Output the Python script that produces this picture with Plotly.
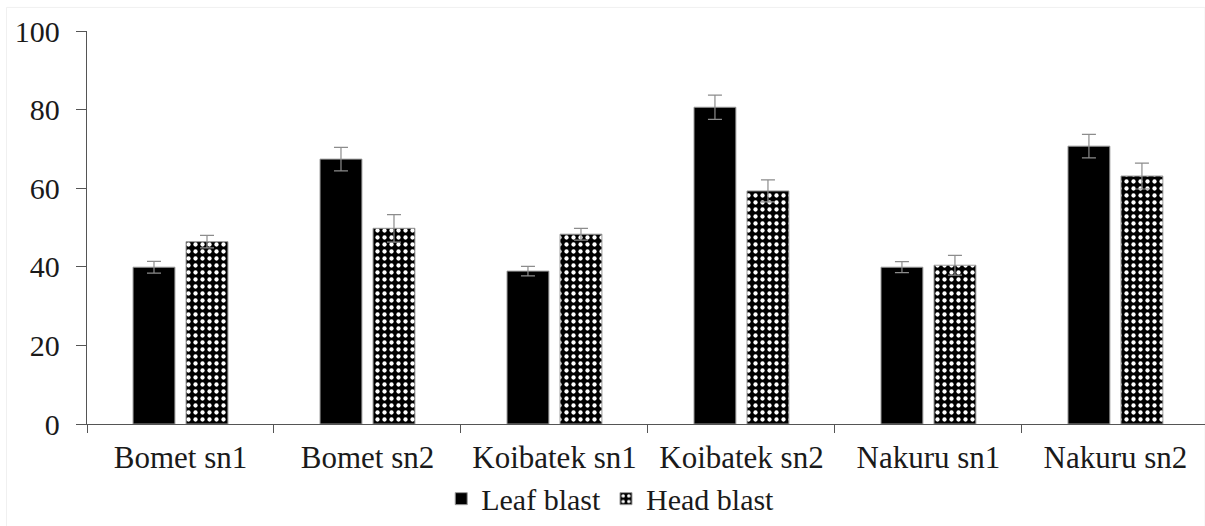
import plotly.graph_objects as go

categories = ["Bomet sn1", "Bomet sn2", "Koibatek sn1", "Koibatek sn2", "Nakuru sn1", "Nakuru sn2"]
leaf_blast = [39.9, 67.4, 38.9, 80.6, 39.9, 70.7]
leaf_err = [1.5, 3.0, 1.2, 3.1, 1.4, 3.0]
head_blast = [46.4, 49.8, 48.3, 59.3, 40.4, 63.1]
head_err = [1.6, 3.5, 1.5, 2.8, 2.5, 3.3]
y_ticks = [0, 20, 40, 60, 80, 100]

FONT = "Times New Roman, Liberation Serif, DejaVu Serif, serif"

fig = go.Figure()
fig.add_trace(go.Bar(
    name="Leaf blast", x=categories, y=leaf_blast,
    marker=dict(color="black", line=dict(color="#9a9a9a", width=1)),
    error_y=dict(type="data", array=leaf_err, color="#8c8c8c", thickness=1.2, width=7),
))
fig.add_trace(go.Bar(
    name="Head blast", x=categories, y=head_blast,
    marker=dict(color="black", line=dict(color="#9a9a9a", width=1),
                pattern=dict(shape=".", bgcolor="black", fgcolor="white",
                             size=7, solidity=0.3, fillmode="replace")),
    error_y=dict(type="data", array=head_err, color="#8c8c8c", thickness=1.2, width=7),
))

fig.update_layout(
    width=1205, height=526,
    margin=dict(l=87, r=0, t=31, b=102, pad=0),
    paper_bgcolor="white", plot_bgcolor="white",
    font=dict(family=FONT, size=30, color="#1a1a1a"),
    barmode="group", bargap=0.433, bargroupgap=0.21,
    showlegend=True,
    legend=dict(orientation="h", x=0.468, xanchor="center", y=-0.19, yanchor="middle",
                font=dict(family=FONT, size=30, color="#1a1a1a"),
                itemwidth=30, tracegroupgap=0, bgcolor="rgba(0,0,0,0)"),
    xaxis=dict(range=[-0.5, 5.479], showline=True, linecolor="#555555", linewidth=1.3,
               ticks="outside", tickson="boundaries", ticklen=8, tickcolor="#555555",
               ticklabelstandoff=6,
               tickfont=dict(family=FONT, size=31, color="#1a1a1a"),
               showgrid=False, zeroline=False, fixedrange=True),
    yaxis=dict(range=[0, 100], tickvals=y_ticks, showline=True, linecolor="#555555",
               linewidth=1.3, ticks="outside", ticklen=10, tickcolor="#555555",
               ticklabelstandoff=10,
               tickfont=dict(family=FONT, size=30, color="#1a1a1a"),
               showgrid=False, zeroline=False, fixedrange=True),
    shapes=[dict(type="rect", xref="paper", yref="paper", x0=-0.072, x1=1.0, y0=-0.27, y1=1.06,
                 line=dict(color="#f0f0f0", width=1), layer="below")],
)

fig.write_html("out.html")
